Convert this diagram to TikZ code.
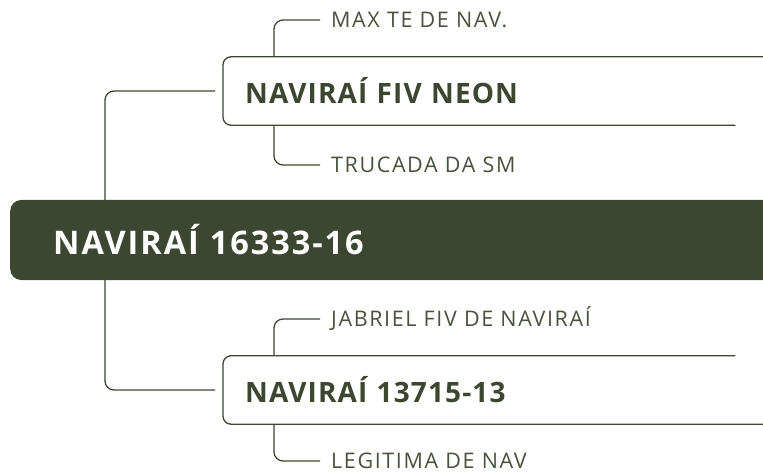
\documentclass[tikz,border=0pt]{standalone}
\usepackage{fontspec}
\setmainfont{Open Sans}
\definecolor{mmolive}{RGB}{60,70,48}
\definecolor{mmleaf}{RGB}{72,82,62}
\usetikzlibrary{positioning}
\tikzset{
  rootbox/.style={fill=mmolive,text=white,rounded corners=11pt,anchor=west,align=left,
    inner xsep=43pt,text width=714pt,minimum height=80pt,
    font=\bfseries\fontsize{32.5}{36}\selectfont\addfontfeature{LetterSpace=6}},
  mainbox/.style={text=mmolive,anchor=west,align=left,inner xsep=22pt,text width=496pt,
    minimum height=68pt,font=\bfseries\fontsize{28}{32}\selectfont\addfontfeature{LetterSpace=4}},
  leaf/.style={text=mmleaf,anchor=west,inner sep=0pt,text height=15pt,text depth=0pt,
    font=\fontsize{21.5}{24}\selectfont\addfontfeature{LetterSpace=7.5}},
  link/.style={draw=mmolive,line width=1.3pt,rounded corners=9pt}
}
\begin{document}
\begin{tikzpicture}[x=1pt,y=-1pt]
  \useasboundingbox (0,0) rectangle (763,473);
  \clip (0,0) rectangle (763,473);
  \node[rootbox] (root) at (10,240) {NAVIRAÍ 16333-16};
  \node[mainbox] (nfiv) at (223,91) {NAVIRAÍ FIV NEON};
  \node[mainbox] (n137) at (223,390) {NAVIRAÍ 13715-13};
  \node[leaf] (max) at (331,20) {MAX TE DE NAV.};
  \node[leaf] (truc) at (331,165) {TRUCADA DA SM};
  \node[leaf] (jab) at (331,319) {JABRIEL FIV DE NAVIRAÍ};
  \node[leaf] (leg) at (331,461) {LEGITIMA DE NAV};
  % box outlines, open at the right
  \draw[link,rounded corners=8pt] (nfiv.north east) -- (nfiv.north west) -- (nfiv.south west) -- ([xshift=-28pt]nfiv.south east);
  \draw[link,rounded corners=8pt] ([xshift=-28pt]n137.north east) -- (n137.north west) -- (n137.south west) -- (n137.south east);
  % root to main boxes
  \draw[link,shorten >=8pt] ([xshift=95pt]root.north west) |- (nfiv.west);
  \draw[link,shorten >=8pt] ([xshift=95pt]root.south west) |- (n137.west);
  % main boxes to leaves
  \draw[link,shorten >=11pt] ([xshift=51pt]nfiv.north west) |- (max.west);
  \draw[link,shorten >=11pt] ([xshift=51pt]nfiv.south west) |- (truc.west);
  \draw[link,shorten >=11pt] ([xshift=51pt]n137.north west) |- (jab.west);
  \draw[link,shorten >=11pt] ([xshift=51pt]n137.south west) |- (leg.west);
\end{tikzpicture}
\end{document}
